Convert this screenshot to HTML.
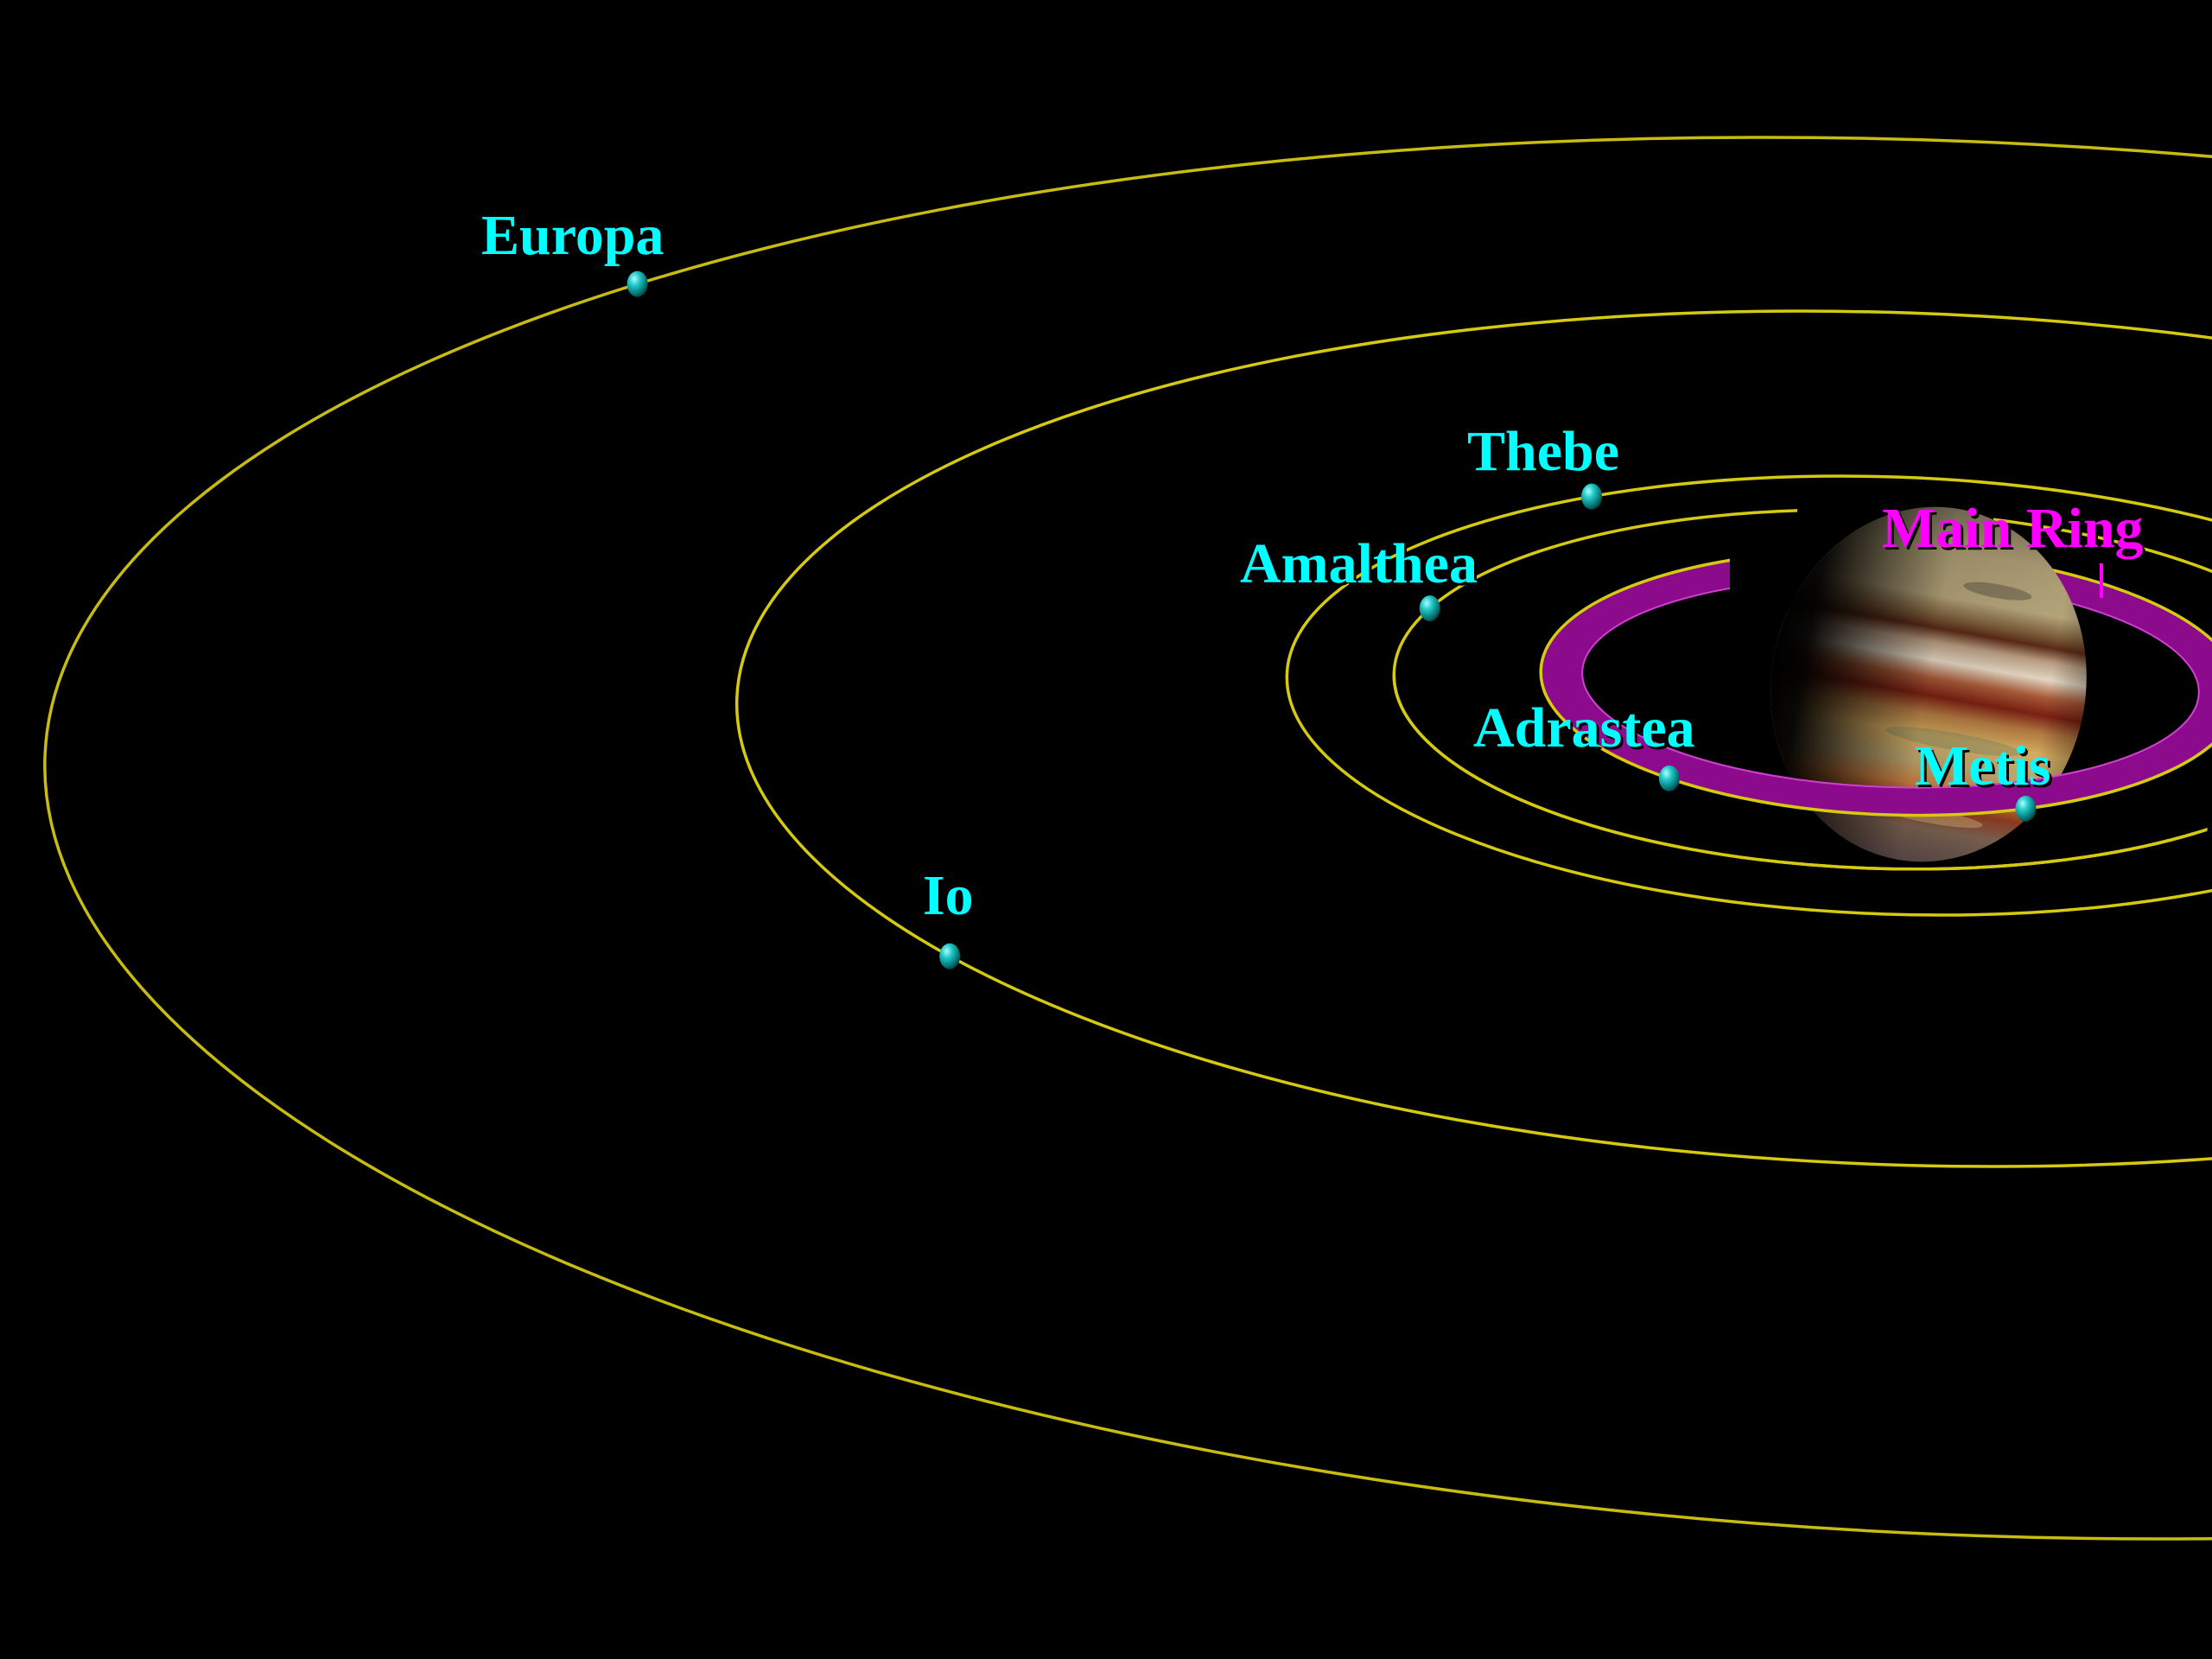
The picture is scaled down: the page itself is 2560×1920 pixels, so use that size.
<!DOCTYPE html>
<html>
<head>
<meta charset="utf-8">
<style>
html,body{margin:0;padding:0;background:#000;}
svg{display:block;}
text{font-family:"Liberation Serif",serif;font-weight:bold;font-size:66px;}
</style>
</head>
<body>
<svg id="scene" width="2560" height="1920" viewBox="0 0 2560 1920" xmlns="http://www.w3.org/2000/svg">
<defs>
  <radialGradient id="moonGrad" cx="0.35" cy="0.3" r="0.75">
    <stop offset="0" stop-color="#aaffff"/>
    <stop offset="0.35" stop-color="#22c8c8"/>
    <stop offset="0.8" stop-color="#067070"/>
    <stop offset="1" stop-color="#033838"/>
  </radialGradient>
  <linearGradient id="bands" gradientUnits="userSpaceOnUse" x1="0" y1="-206" x2="0" y2="206">
    <stop offset="0" stop-color="#7a7058"/>
    <stop offset="0.12" stop-color="#a89a72"/>
    <stop offset="0.25" stop-color="#b4a47a"/>
    <stop offset="0.31" stop-color="#7a5a38"/>
    <stop offset="0.34" stop-color="#5a2a16"/>
    <stop offset="0.38" stop-color="#b89c80"/>
    <stop offset="0.43" stop-color="#e2d6c2"/>
    <stop offset="0.48" stop-color="#a85a38"/>
    <stop offset="0.53" stop-color="#7a2012"/>
    <stop offset="0.58" stop-color="#b07840"/>
    <stop offset="0.64" stop-color="#d4ac60"/>
    <stop offset="0.72" stop-color="#bca670"/>
    <stop offset="0.78" stop-color="#c88040"/>
    <stop offset="0.84" stop-color="#8a3a1e"/>
    <stop offset="0.9" stop-color="#7a6050"/>
    <stop offset="1" stop-color="#5a4a48"/>
  </linearGradient>
  <linearGradient id="shade" gradientUnits="userSpaceOnUse" x1="-182" y1="0" x2="182" y2="0">
    <stop offset="0" stop-color="#000" stop-opacity="1"/>
    <stop offset="0.1" stop-color="#000" stop-opacity="0.95"/>
    <stop offset="0.3" stop-color="#000" stop-opacity="0.5"/>
    <stop offset="0.5" stop-color="#000" stop-opacity="0.1"/>
    <stop offset="0.88" stop-color="#000" stop-opacity="0"/>
    <stop offset="1" stop-color="#000" stop-opacity="0.3"/>
  </linearGradient>
  <clipPath id="clipRingBack"><path d="M0 0H2560V1920H0Z M2002 0H2300V790H2002Z" clip-rule="evenodd"/></clipPath>
  <clipPath id="clipAmalBack"><path d="M0 0H2560V1920H0Z M2073 0H2300V798H2073Z" clip-rule="evenodd"/></clipPath>
  <clipPath id="clipFront"><rect x="0" y="800" width="2560" height="1120"/></clipPath>
  <clipPath id="clipJup"><ellipse cx="0" cy="0" rx="182" ry="206"/></clipPath>
</defs>
<rect x="0" y="0" width="2560" height="1920" fill="#000"/>
<g id="backLayer"></g>
<g id="jupiter" transform="translate(2232 792) rotate(10)">
  <g clip-path="url(#clipJup)">
    <rect x="-190" y="-210" width="380" height="420" fill="url(#bands)"/>
    <ellipse cx="60" cy="-120" rx="40" ry="8" fill="#5a5040" opacity="0.5"/>
    <ellipse cx="40" cy="60" rx="80" ry="10" fill="#6a7a60" opacity="0.35"/>
    <ellipse cx="30" cy="150" rx="60" ry="8" fill="#e0c080" opacity="0.4"/>
    <rect x="-190" y="-210" width="380" height="420" fill="url(#shade)"/>
  </g>
</g>
<g id="frontLayer"></g>
<g id="moonLayer"></g>
<g id="labelLayer"></g>
</svg>
<script>
// Orbit geometry: Europa, Io, Thebe, Amalthea, Main ring outer edge (Metis/Adrastea orbit)
var orbitNames = ['europa-orbit','io-orbit','thebe-orbit','amalthea-orbit','metis-orbit'];
var orbitCx = [2270, 2196, 2188, 2171, 2188];
var orbitCy = [970, 855, 805, 798, 790];
var orbitRx = [2220, 1344, 699, 558, 405];
var orbitRy = [806, 493, 253, 207, 153];
var orbitTilt = [2.5, 2, 2, 2, 2];
// Moons: name, orbit index, orbital angle (deg)
var moonNames = ['Europa','Io','Thebe','Amalthea','Adrastea','Metis'];
var moonOrbit = [0, 1, 2, 3, 4, 4];
var moonAngle = [225.4, 144.0, 239.6, 201.5, 128.5, 66.5];

var NS = 'http://www.w3.org/2000/svg';
function mk(tag, attrs, parent){
  var e = document.createElementNS(NS, tag);
  for (var k in attrs) e.setAttribute(k, attrs[k]);
  parent.appendChild(e);
  return e;
}
function tf(i){ return 'rotate(' + orbitTilt[i] + ' ' + orbitCx[i] + ' ' + orbitCy[i] + ')'; }
function ellAttrs(i, rx, ry){
  return {cx: orbitCx[i], cy: orbitCy[i], rx: rx, ry: ry, transform: tf(i)};
}
function orbitPoint(i, deg){
  var t = deg * Math.PI / 180, th = orbitTilt[i] * Math.PI / 180;
  var xp = orbitRx[i] * Math.cos(t), yp = orbitRy[i] * Math.sin(t);
  return [orbitCx[i] + xp * Math.cos(th) - yp * Math.sin(th),
          orbitCy[i] + xp * Math.sin(th) + yp * Math.cos(th)];
}
var back = document.getElementById('backLayer');
var front = document.getElementById('frontLayer');
var yellow = '#d6ca10';

function drawRing(parent, clip){
  var i = 4;
  var g = mk('g', {'clip-path': 'url(#' + clip + ')'}, parent);
  
  
  var a = ellAttrs(i, orbitRx[i], orbitRy[i]);
  var cx = orbitCx[i], cy = orbitCy[i], ro = orbitRx[i], rO = orbitRy[i], ri = orbitRx[i] - 48, rI = orbitRy[i] - 32;
  var d = 'M' + (cx - ro) + ' ' + cy + 'a' + ro + ' ' + rO + ' 0 1 0 ' + (2 * ro) + ' 0a' + ro + ' ' + rO + ' 0 1 0 ' + (-2 * ro) + ' 0Z' +
          'M' + (cx - ri) + ' ' + cy + 'a' + ri + ' ' + rI + ' 0 1 0 ' + (2 * ri) + ' 0a' + ri + ' ' + rI + ' 0 1 0 ' + (-2 * ri) + ' 0Z';
  mk('path', {d: d, 'fill-rule': 'evenodd', fill: '#8c0a8c', transform: tf(i)}, g);
  var inner = mk('ellipse', ellAttrs(i, ri, rI), g);
  inner.setAttribute('fill', 'none'); inner.setAttribute('stroke', '#d040d0'); inner.setAttribute('stroke-width', '2');
  var outer = mk('ellipse', a, g);
  outer.setAttribute('fill', 'none'); outer.setAttribute('stroke', yellow); outer.setAttribute('stroke-width', '3.5');
  
  
}
function drawOrbit(parent, i, clip){
  var e = mk('ellipse', ellAttrs(i, orbitRx[i], orbitRy[i]), parent);
  e.setAttribute('fill', 'none');
  e.setAttribute('stroke', i === 0 ? '#c8bc10' : yellow);
  e.setAttribute('stroke-width', '3.5');
  if (clip) e.setAttribute('clip-path', 'url(#' + clip + ')');
  
  
}
drawOrbit(back, 0);
drawOrbit(back, 1);
drawOrbit(back, 2);
drawOrbit(back, 3, 'clipAmalBack');
drawRing(back, 'clipRingBack');
drawOrbit(front, 3, 'clipFront');
drawRing(front, 'clipFront');

var moonLayer = document.getElementById('moonLayer');
for (var m = 0; m < moonNames.length; m++){
  var p = orbitPoint(moonOrbit[m], moonAngle[m]);
  var c = mk('ellipse', {cx: p[0].toFixed(1), cy: p[1].toFixed(1), rx: 12, ry: 15, fill: 'url(#moonGrad)'}, moonLayer);
  
  
}

// Labels
var labelText = ['Europa','Io','Thebe','Amalthea','Adrastea','Metis','Main Ring'];
var labelX = [557, 1068, 1698, 1435, 1705, 2216, 2178];
var labelY = [294, 1058, 544, 674, 864, 908, 633];
var labelColor = ['#00ffff','#00ffff','#00ffff','#00ffff','#00ffff','#00ffff','#ff00ff'];
var labelLayer = document.getElementById('labelLayer');
for (var k = 0; k < labelText.length; k++){
  var g = mk('g', {}, labelLayer);
  
  
  var s = mk('text', {x: labelX[k] + 3, y: labelY[k] + 3, fill: '#000'}, g);
  s.textContent = labelText[k];
  var t = mk('text', {x: labelX[k], y: labelY[k], fill: labelColor[k]}, g);
  t.textContent = labelText[k];
}
var tick = mk('line', {x1: 2432, y1: 652, x2: 2432, y2: 692, stroke: '#ff00ff', 'stroke-width': 4}, labelLayer);


</script>
</body>
</html>
